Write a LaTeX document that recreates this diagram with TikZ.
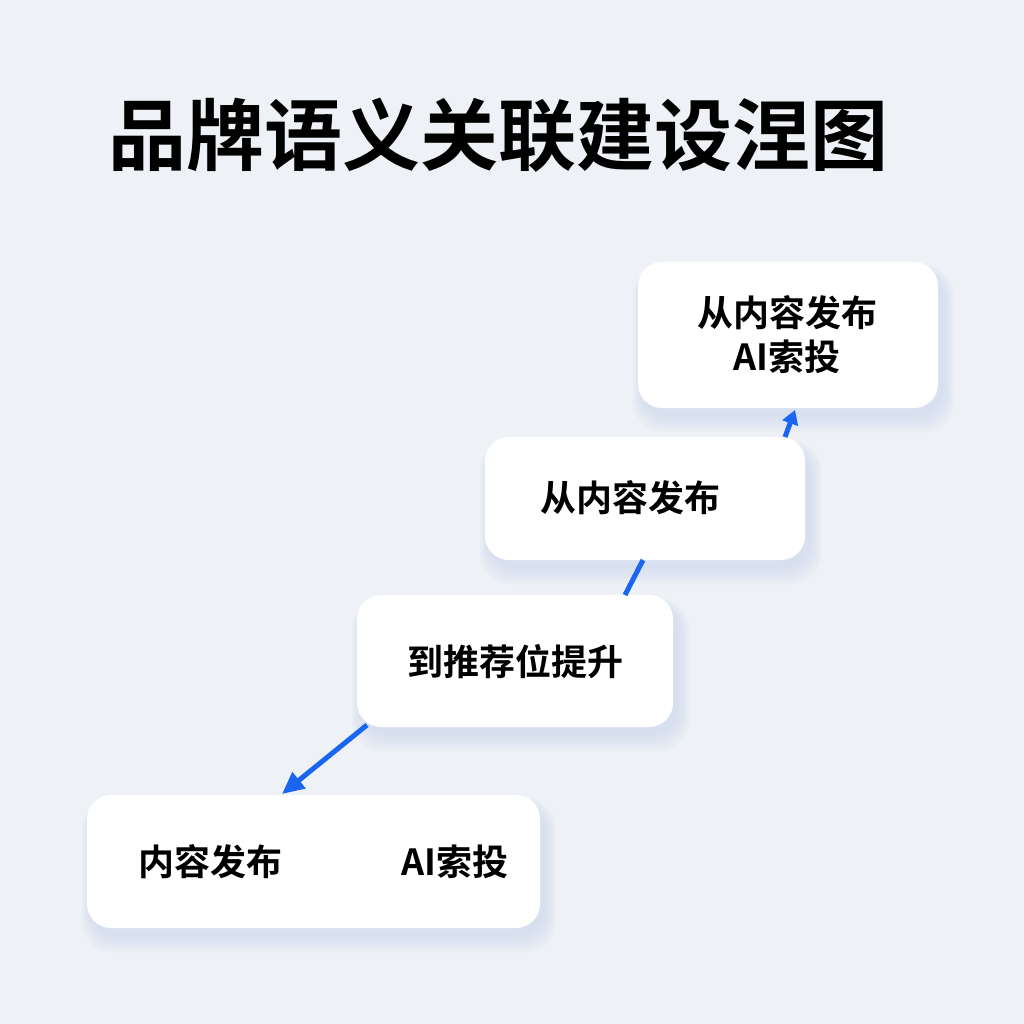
\documentclass[tikz,border=0pt]{standalone}
\usepackage{fontspec}
\setmainfont{Noto Sans CJK SC}[BoldFont={* Bold}]
\usetikzlibrary{arrows.meta}
\definecolor{bg}{HTML}{EEF1F5}
\definecolor{arr}{HTML}{1A66F0}
\definecolor{shd}{HTML}{C9D6EE}
\tikzset{
 card/.style={draw=none,fill=white,rounded corners=24pt,inner sep=0pt},
 lbl/.style={font=\fontsize{36}{44}\selectfont\bfseries,align=center},
 con/.style={draw=arr,line width=5pt},
}
\newcommand{\cardbox}[5]{% name x1 y1 x2 y2
 \foreach \k in {1,...,6}{
  \fill[shd,opacity=0.12,rounded corners=30pt] (#2+4-\k*1.5,#3+10-\k) rectangle (#4+4+\k*2,#5+6+\k*3);}
 \path[card] (#2,#3) rectangle (#4,#5);
 \coordinate (#1) at ({(#2+#4)/2},{(#3+#5)/2});}
\begin{document}
\begin{tikzpicture}[x=1pt,y=-1pt]
\fill[bg] (0,0) rectangle (1024,1024);
\useasboundingbox (0,0) rectangle (1024,1024);
\node[font=\fontsize{78}{88}\selectfont\bfseries] (title) at (498,135) {品牌语义关联建设涅图};
\cardbox{c1}{638}{262}{938}{408}
\cardbox{c2}{485}{437}{805}{560}
\cardbox{c3}{357}{595}{673}{727}
\cardbox{c4}{87}{795}{540}{928}
\node[lbl] (t1) at (787,335) {从内容发布\\AI索投};
\node[lbl] (t2) at (630,498) {从内容发布};
\node[lbl] (t3) at (515,662) {到推荐位提升};
\node[lbl] (t4a) at (210,862) {内容发布};
\node[lbl] (t4b) at (455,862) {AI索投};
\coordinate (a1s) at (785,437); \coordinate (a1e) at (795,410);
\draw[con,-{Triangle[length=14pt,width=16pt]}] (a1s) -- (a1e);
\coordinate (a2s) at (643,560); \coordinate (a2e) at (625,595);
\draw[con] (a2s) -- (a2e);
\coordinate (a3s) at (367,725); \coordinate (a3e) at (282,794);
\draw[con,-{Triangle[length=22pt,width=20pt]}] (a3s) -- (a3e);
\end{tikzpicture}
\end{document}
